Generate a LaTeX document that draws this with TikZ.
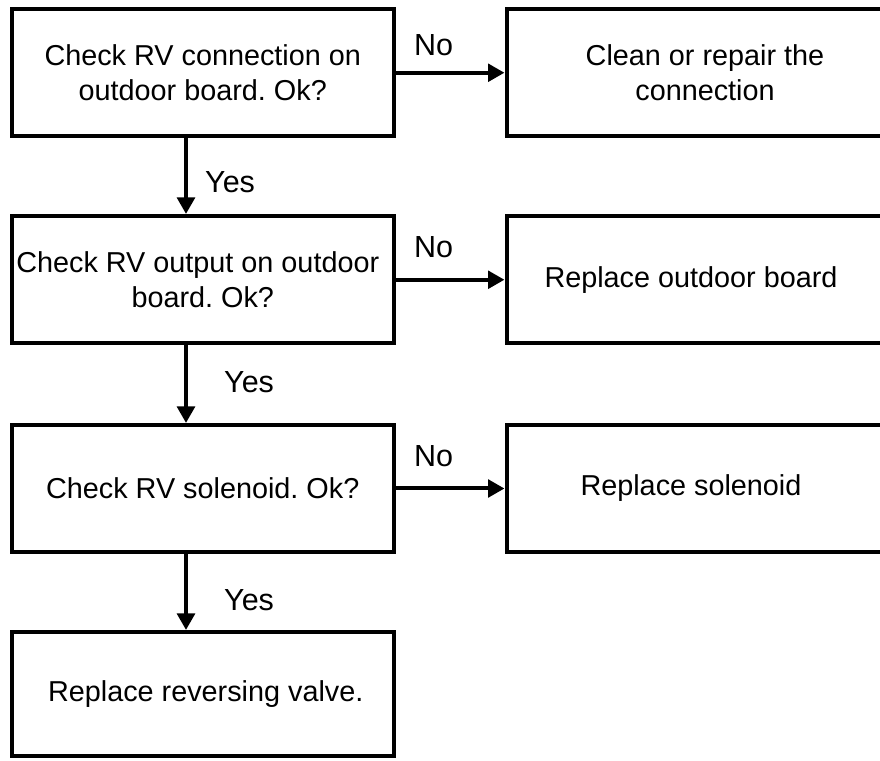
\documentclass[tikz,border=0pt]{standalone}
\usepackage{fontspec}
\setmainfont{Liberation Sans}
\usetikzlibrary{arrows.meta}
\frenchspacing
\tikzset{
  box/.style={draw=black, line width=4pt, rectangle, inner sep=0pt,
    minimum width=382.5pt, minimum height=127.5pt, align=center,
    font=\fontsize{28.8}{35.5}\selectfont},
  arr/.style={draw=black, line width=4pt, -{Triangle[length=16.5pt,width=17.5pt]}},
  lbl/.style={inner sep=0pt, anchor=base west, font=\fontsize{30.5}{36}\selectfont}
}
\newcommand{\rsh}{\hspace*{-14pt}}
\newcommand{\lsh}{\hspace*{14pt}}
\begin{document}
\frenchspacing
\begin{tikzpicture}[x=1pt,y=1pt]
\useasboundingbox (0,0) rectangle (880,760);
\clip (0,0) rectangle (880,760);
\fill[white] (0,0) rectangle (880,760);
% left column
\node[box] (b1) at (202.75,687.25) {Check RV connection on\\outdoor board. Ok?};
\node[box] (b3) at (202.75,480.25) {\hspace*{-10pt}Check RV output on outdoor\\board. Ok?};
\node[box, minimum height=127pt] (b5) at (202.75,271.5) {Check RV solenoid. Ok?};
\node[box, minimum height=124pt] (b7) at (202.75,66) {\hspace*{6pt}Replace reversing valve.};
% right column
\node[box, minimum width=383pt] (b2) at (698,687.25) {\lsh Clean or repair the\\\lsh connection};
\node[box, minimum width=383pt] (b4) at (698,480.25) {\rsh Replace outdoor board};
\node[box, minimum width=383pt, minimum height=127pt] (b6) at (698,271.5) {\rsh Replace solenoid};
% horizontal arrows
\draw[arr] (b1.east) -- (b2.west);
\draw[arr] (b3.east) -- (b4.west);
\draw[arr] (b5.east) -- (b6.west);
% vertical arrows
\draw[arr] ([xshift=-16.75pt]b1.south) -- ([xshift=-16.75pt]b3.north);
\draw[arr] ([xshift=-16.75pt]b3.south) -- ([xshift=-16.75pt]b5.north);
\draw[arr] ([xshift=-16.75pt]b5.south) -- ([xshift=-16.75pt]b7.north);
% labels
\node[lbl] (n1) at (414,704) {No};
\node[lbl] (n2) at (414,502) {No};
\node[lbl] (n3) at (414,293) {No};
\node[lbl] (y1) at (205,567) {Yes};
\node[lbl] (y2) at (224,367) {Yes};
\node[lbl] (y3) at (224,149) {Yes};
\end{tikzpicture}
\end{document}
